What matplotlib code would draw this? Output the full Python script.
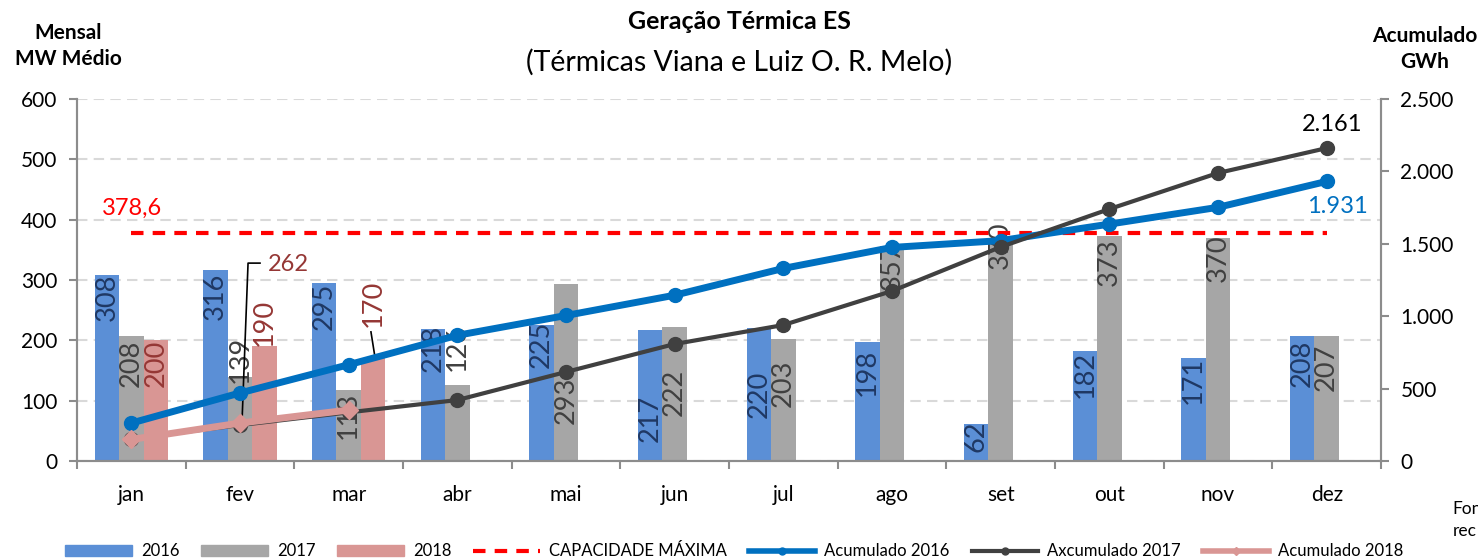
import matplotlib
matplotlib.use("Agg")
from matplotlib import pyplot as plt
from matplotlib.lines import Line2D
from matplotlib.patches import Patch
import numpy as np

plt.rcParams['font.family'] = ['Lato', 'DejaVu Sans']

meses = ['jan', 'fev', 'mar', 'abr', 'mai', 'jun', 'jul', 'ago', 'set', 'out', 'nov', 'dez']

# MW médio mensal
g2016 = [308, 316, 295, 218, 225, 217, 220, 198, 62, 182, 171, 208]
g2017 = [208, 139, 118, 126, 293, 222, 203, 357, 370, 373, 370, 207]
g2018 = [200, 190, 170]
capacidade = 378.6

# acumulado GWh
ac2016 = [262, 470, 665, 868, 1005, 1145, 1330, 1475, 1522, 1636, 1752, 1931]
ac2017 = [155, 248, 336, 421, 615, 808, 939, 1174, 1478, 1740, 1989, 2161]
ac2018 = [149, 262, 352]

# altura (centro) dos rótulos das barras, como no original
lbl16 = [272, 273, 257, 186, 194, 70, 111, 147, 41, 143, 134, 162]
lbl17 = [161, 169, 76, 189, 101, 113, 128, 322, 358, 330, 336, 156]
lbl18 = [162, 230, 262]

c16 = '#5B8FD6'
c17 = '#A6A6A6'
c18 = '#D99694'
cl16 = '#0070C0'
cl17 = '#404040'
txt16 = '#1F3864'
txt17 = '#404040'
txt18 = '#953735'
eixo = '#8C8C8C'

fig = plt.figure(figsize=(14.78, 5.59), dpi=100)
ax = fig.add_axes([0.0521, 0.1753, 0.8823, 0.6476])
ax2 = ax.twinx()

x = np.arange(len(meses))
w = 0.225

ax.bar(x - w, g2016, w, color=c16, zorder=2)
ax.bar(x, g2017, w, color=c17, zorder=2)
ax.bar(np.arange(len(g2018)) + w, g2018, w, color=c18, zorder=2)

fs_bar = 19.5
for i, v in enumerate(g2016):
    ax.text(i - w, lbl16[i], str(v), rotation=90, ha='center', va='center',
            fontsize=fs_bar, color=txt16, zorder=3)
for i, v in enumerate(g2017):
    ax.text(i, lbl17[i], str(v), rotation=90, ha='center', va='center',
            fontsize=fs_bar, color=txt17, zorder=3)
for i, v in enumerate(g2018[:2]):
    ax.text(i + w, lbl18[i], str(v), rotation=90, ha='center', va='center',
            fontsize=fs_bar, color=txt18, zorder=3)
# rótulo de mar/2018 deslocado com linha guia
ax.text(2.224, lbl18[2], str(g2018[2]), rotation=90, ha='center', va='center',
        fontsize=fs_bar, color=txt18, zorder=3)
ax.plot([2.205, 2.242], [214, 172], color='black', lw=1.2, zorder=3)

# capacidade máxima
ax.plot(x, [capacidade] * len(meses), color='#FF0000', lw=3, ls=(0, (3, 2.2)), zorder=4)
ax.text(-0.27, 419, f'{capacidade}'.replace('.', ','), color='#FF0000', fontsize=17,
        ha='left', va='center')

ax.set_xlim(-0.5, len(meses) - 0.5)
ax.set_ylim(0, 600)
ax.set_yticks(np.arange(0, 601, 100))
ax.grid(axis='y', color='#D9D9D9', ls=(0, (5, 3)), lw=1.5, zorder=0)
ax.set_axisbelow(True)

ax.set_xticks(x)
ax.set_xticklabels(meses, fontsize=15)
ax.set_xticks(np.arange(-0.5, len(meses)), minor=True)
ax.tick_params(axis='x', which='major', length=0, pad=17)
ax.tick_params(axis='x', which='minor', length=6, width=1.5, color=eixo, direction='out')
ax.tick_params(axis='y', labelsize=15, length=6, width=1.5, color=eixo, pad=8)

ax.spines['top'].set_visible(False)
ax2.spines['top'].set_visible(False)
for s in ['left', 'right', 'bottom']:
    ax.spines[s].set_color(eixo)
    ax.spines[s].set_linewidth(1.5)
    ax2.spines[s].set_color(eixo)
    ax2.spines[s].set_linewidth(1.5)

# acumulados
ax2.plot(x, ac2016, color=cl16, lw=5, marker='o', ms=10, zorder=3)
ax2.plot(x, ac2017, color=cl17, lw=3, marker='o', ms=10, zorder=4)
ax2.plot(np.arange(len(ac2018)), ac2018, color=c18, lw=5, marker='D', ms=9, zorder=5)
ax2.set_ylim(0, 2500)
ax2.set_yticks(np.arange(0, 2501, 500))
ax2.set_yticklabels([f'{v:,}'.replace(',', '.') for v in range(0, 2501, 500)], fontsize=15)
ax2.tick_params(axis='y', length=6, width=1.5, color=eixo, pad=8)

ax2.text(11.05, 2327, f'{ac2017[-1]:,}'.replace(',', '.'), color='black', fontsize=17,
         ha='center', va='center')
ax2.text(11.1, 1761, f'{ac2016[-1]:,}'.replace(',', '.'), color=cl16, fontsize=17,
         ha='center', va='center')

# rótulo 262 com linha guia
ax.text(1.258, 325, str(ac2018[1]), color=txt18, fontsize=17, ha='left', va='center')
ax.plot([1.184, 1.074, 1.018], [328, 328, 63], color='black', lw=1.2, zorder=6)

# títulos
fig.text(0.5, 0.962, 'Geração Térmica ES', ha='center', va='center',
         fontsize=18, fontweight='bold')
fig.text(0.5, 0.888, '(Térmicas Viana e Luiz O. R. Melo)', ha='center', va='center',
         fontsize=20.5)
fig.text(0.046, 0.918, 'Mensal\nMW Médio', ha='center', va='center', fontsize=15,
         fontweight='bold', linespacing=1.4)
fig.text(0.964, 0.912, 'Acumulado\nGWh', ha='center', va='center', fontsize=15,
         fontweight='bold', linespacing=1.4)
fig.text(0.983, 0.07, 'Fonte:\nrec', ha='left', va='center', fontsize=12.5,
         linespacing=1.5)

handles = [
    Patch(color=c16, label='2016'),
    Patch(color=c17, label='2017'),
    Patch(color=c18, label='2018'),
    Line2D([], [], color='#FF0000', lw=3, ls=(0, (3, 2.2)), label='CAPACIDADE MÁXIMA'),
    Line2D([], [], color=cl16, lw=4, marker='o', ms=5, label='Acumulado 2016'),
    Line2D([], [], color=cl17, lw=3, marker='o', ms=5, label='Axcumulado 2017'),
    Line2D([], [], color=c18, lw=4, marker='D', ms=4, label='Acumulado 2018'),
]
fig.legend(handles=handles, loc='center', bbox_to_anchor=(0.497, 0.014), ncol=7,
           frameon=False, fontsize=12, handlelength=4.0, handleheight=0.6,
           columnspacing=1.3, handletextpad=0.55)

fig.savefig('out.png', dpi=100)
